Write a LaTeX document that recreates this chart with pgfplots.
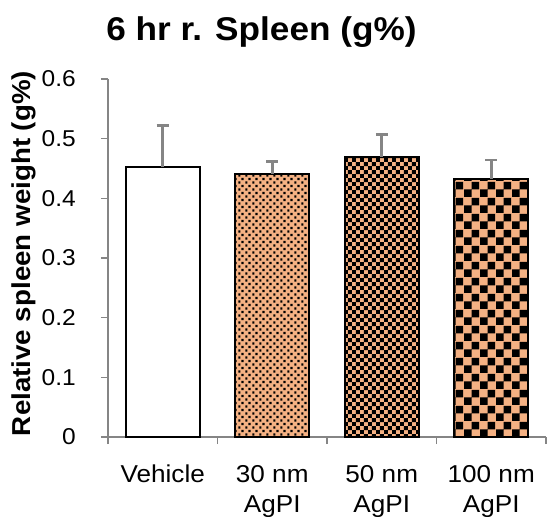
\documentclass[border=0pt]{standalone}
\usepackage{fontspec}
\setmainfont{Liberation Sans}[FakeStretch=1.07]
\usepackage{pgfplots}
\pgfplotsset{compat=1.18}
\usetikzlibrary{patterns}
\definecolor{barorange}{HTML}{F4B183}
\definecolor{axgray}{HTML}{858585}
\pgfdeclarepatternformonly{mydots}{\pgfqpoint{0bp}{0bp}}{\pgfqpoint{7bp}{7.4bp}}{\pgfqpoint{7bp}{7.4bp}}{%
  \pgfpathrectangle{\pgfqpoint{0.4bp}{0.4bp}}{\pgfqpoint{2.4bp}{2.4bp}}%
  \pgfpathrectangle{\pgfqpoint{3.9bp}{4.1bp}}{\pgfqpoint{2.4bp}{2.4bp}}%
  \pgfusepath{fill}}
\pgfdeclarepatternformonly{smallcheck}{\pgfqpoint{0bp}{0bp}}{\pgfqpoint{8.4bp}{8.4bp}}{\pgfqpoint{8.4bp}{8.4bp}}{%
  \pgfpathrectangle{\pgfqpoint{0bp}{0bp}}{\pgfqpoint{4.2bp}{4.2bp}}%
  \pgfpathrectangle{\pgfqpoint{4.2bp}{4.2bp}}{\pgfqpoint{4.2bp}{4.2bp}}%
  \pgfusepath{fill}}
\pgfdeclarepatternformonly{bigcheck}{\pgfqpoint{0bp}{0bp}}{\pgfqpoint{16bp}{16bp}}{\pgfqpoint{16bp}{16bp}}{%
  \pgfpathrectangle{\pgfqpoint{0bp}{0bp}}{\pgfqpoint{8bp}{8bp}}%
  \pgfpathrectangle{\pgfqpoint{8bp}{8bp}}{\pgfqpoint{8bp}{8bp}}%
  \pgfusepath{fill}}
\begin{document}
\begin{tikzpicture}
\begin{axis}[
  name=ax, at={(0,0)}, anchor=south west,
  scale only axis, width=438bp, height=358bp,
  xmin=-0.5, xmax=3.5, ymin=0, ymax=0.6,
  axis x line*=bottom, axis y line*=left,
  axis line style={axgray, line width=1.6bp, -},
  xtick={0,1,2,3},
  xticklabels={Vehicle,{30 nm\\AgPI},{50 nm\\AgPI},{100 nm\\AgPI}},
  minor xtick={-0.5,0.5,1.5,2.5,3.5},
  major x tick style={draw=none},
  minor tick style={axgray, line width=1.6bp},
  ytick={0,0.1,0.2,0.3,0.4,0.5,0.6},
  ytick style={axgray, line width=1.6bp},
  tick align=outside,
  major tick length=7bp, minor tick length=7bp,
  /pgf/number format/assume math mode=true,
  every y tick label/.style={font=\fontsize{23}{28}\selectfont, anchor=east, inner sep=0pt, xshift=-25bp},
  every x tick label/.style={font=\fontsize{24.5}{30}\selectfont, align=center, anchor=north, inner sep=0pt, yshift=-21bp},
  clip=false,
]
\addplot[ybar, bar width=0.676, bar shift=0pt, draw=black, line width=2bp, fill=white]
  coordinates {(0,0.452)};
\addplot[ybar, bar width=0.676, bar shift=0pt, draw=black, line width=2bp, fill=barorange, postaction={pattern=mydots}]
  coordinates {(1,0.441)};
\addplot[ybar, bar width=0.676, bar shift=0pt, draw=black, line width=2bp, fill=barorange, postaction={pattern=smallcheck}]
  coordinates {(2,0.469)};
\addplot[ybar, bar width=0.676, bar shift=0pt, draw=black, line width=2bp, fill=barorange, postaction={pattern=bigcheck}]
  coordinates {(3,0.433)};
\addplot[draw=none, mark=none,
  error bars/.cd, y dir=plus, y explicit,
  error bar style={axgray, line width=2.6bp},
  error mark=-,
  error mark options={axgray, line width=2.6bp, mark size=6bp, rotate=90}]
  coordinates {(0,0.452) +- (0,0.070) (1,0.441) +- (0,0.021) (2,0.469) +- (0,0.038) (3,0.433) +- (0,0.031)};
\end{axis}
\node[font=\bfseries\fontsize{33}{40}\selectfont, anchor=base] at ([xshift=153.5bp, yshift=39bp]ax.north west) {6 hr r. Spleen (g\%)};
\node[font=\bfseries\fontsize{26}{32}\selectfont, rotate=90, anchor=center] at ([xshift=-84bp, yshift=183.5bp]ax.south west) {Relative spleen weight (g\%)};
\pgfresetboundingbox
\path[use as bounding box] (-108bp,-80bp) rectangle (443bp,437bp);
\end{tikzpicture}
\end{document}
